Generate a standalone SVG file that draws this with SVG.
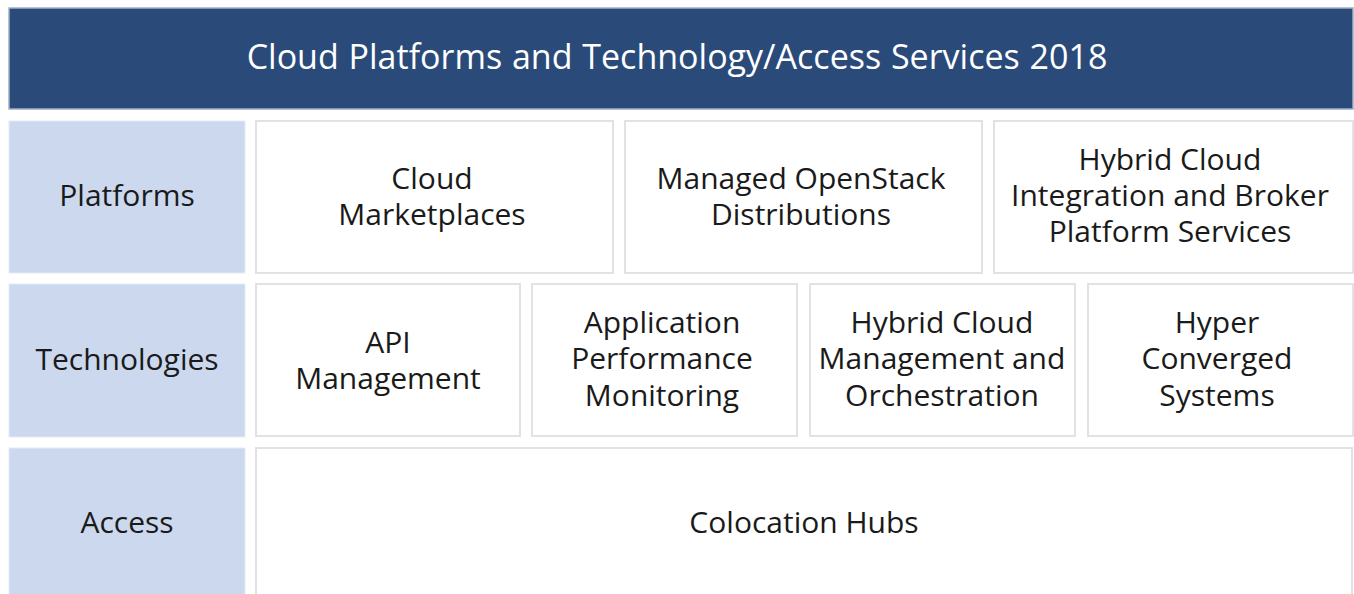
<svg xmlns="http://www.w3.org/2000/svg" width="1354" height="594" viewBox="0 0 1354 594">
<style>
.title{fill:#2a4a7a;stroke:#9fb0c8;stroke-width:1.5}
.lab{fill:#cbd8ee;stroke:#e4eaf5;stroke-width:1}
.cell{fill:#ffffff;stroke:#e2e2e2;stroke-width:2}
text{font-family:"Open Sans","Noto Sans","Liberation Sans",sans-serif;font-size:30px;fill:#1a1a1a;text-anchor:middle}
.tt{fill:#ffffff;font-size:34px;word-spacing:1px}
</style>
<rect width="1354" height="594" fill="#ffffff"/>
<g id="title">
<rect class="title" x="9" y="8" width="1344" height="101"/>
<text class="tt" x="677" y="69">Cloud Platforms and Technology/Access Services 2018</text>
</g>
<g id="label-platforms">
<rect class="lab" x="9" y="121" width="236" height="152"/>
<text x="127" y="206">Platforms</text>
</g>
<g id="label-technologies">
<rect class="lab" x="9" y="284" width="236" height="153"/>
<text x="127" y="370">Technologies</text>
</g>
<g id="label-access">
<rect class="lab" x="9" y="448" width="236" height="150"/>
<text x="127" y="533">Access</text>
</g>
<g id="cloud-marketplaces">
<rect class="cell" x="256" y="121" width="357" height="152"/>
<text x="432" y="189">Cloud<tspan x="432" dy="36">Marketplaces</tspan></text>
</g>
<g id="managed-openstack">
<rect class="cell" x="625" y="121" width="357" height="152"/>
<text x="801" y="189">Managed OpenStack<tspan x="801" dy="36">Distributions</tspan></text>
</g>
<g id="hybrid-integration">
<rect class="cell" x="994" y="121" width="359" height="152"/>
<text x="1170" y="170">Hybrid Cloud<tspan x="1170" dy="36">Integration and Broker</tspan><tspan x="1170" dy="36">Platform Services</tspan></text>
</g>
<g id="api-management">
<rect class="cell" x="256" y="284" width="264" height="152"/>
<text x="388" y="353">API<tspan x="388" dy="36">Management</tspan></text>
</g>
<g id="apm">
<rect class="cell" x="532" y="284" width="265" height="152"/>
<text x="662" y="333">Application<tspan x="662" dy="36">Performance</tspan><tspan x="662" dy="37">Monitoring</tspan></text>
</g>
<g id="hybrid-management">
<rect class="cell" x="810" y="284" width="265" height="152"/>
<text x="942" y="333">Hybrid Cloud<tspan x="942" dy="36">Management and</tspan><tspan x="942" dy="37">Orchestration</tspan></text>
</g>
<g id="hyperconverged">
<rect class="cell" x="1088" y="284" width="265" height="152"/>
<text x="1217" y="333">Hyper<tspan x="1217" dy="36">Converged</tspan><tspan x="1217" dy="37">Systems</tspan></text>
</g>
<g id="colocation-hubs">
<rect class="cell" x="256" y="448" width="1096" height="152"/>
<text x="804" y="533">Colocation Hubs</text>
</g>
<g id="connectors"></g>
</svg>
